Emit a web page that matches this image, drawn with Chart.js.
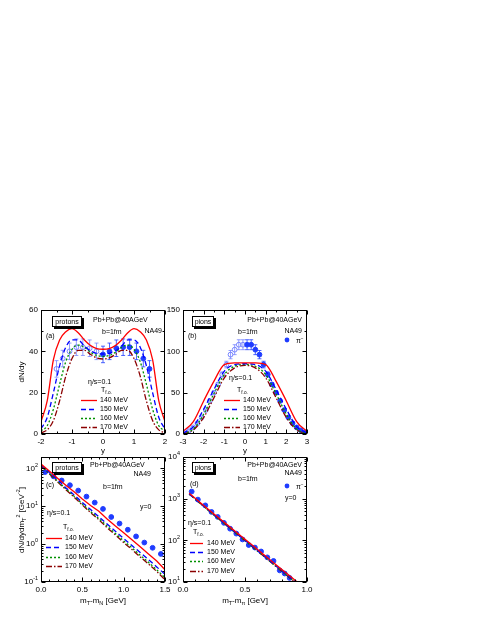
<!DOCTYPE html>
<html>
<head>
<meta charset="utf-8">
<script src="https://cdn.jsdelivr.net/npm/chart.js@4.4.1/dist/chart.umd.min.js"></script>
<style>
  body { margin: 0; background: #fff; }
  #wrap { position: relative; width: 480px; height: 621px; }
  #wrap canvas { position: absolute; left: 0; top: 0; }
</style>
</head>
<body>
<div id="wrap">
  <canvas id="panelA" width="480" height="621"></canvas>
  <canvas id="panelB" width="480" height="621"></canvas>
  <canvas id="panelC" width="480" height="621"></canvas>
  <canvas id="panelD" width="480" height="621"></canvas>
</div>
<script>
// ---- data ----
const tempLabels = ["140 MeV", "150 MeV", "160 MeV", "170 MeV"];

// (a) protons, dN/dy vs y
const rapProton = [-2, -1.8, -1.6, -1.4, -1.2, -1, -0.8, -0.6, -0.4, -0.2, 0, 0.2, 0.4, 0.6, 0.8, 1, 1.2, 1.4, 1.6, 1.8, 2];
const protonDy140 = [6, 16, 36, 45.5, 49.5, 51, 49, 45.5, 42.8, 41.3, 41, 41.3, 42.8, 45.5, 49, 51, 49.5, 45.5, 36, 16, 6];
const protonDy150 = [2.5, 8, 20, 33, 42, 45.5, 45.5, 42.5, 40.2, 39, 38.7, 39, 40.2, 42.5, 45.5, 45.5, 42, 33, 20, 8, 2.5];
const protonDy160 = [1.5, 4, 12, 24, 35, 41, 43, 42, 39.5, 38, 37.5, 38, 39.5, 42, 43, 41, 35, 24, 12, 4, 1.5];
const protonDy170 = [0.5, 2, 6.5, 16, 28, 36.5, 40.5, 40.5, 38.5, 36.8, 36.3, 36.8, 38.5, 40.5, 40.5, 36.5, 28, 16, 6.5, 2, 0.5];
const rapProtonData = [0, 0.21, 0.43, 0.65, 0.86, 1.08, 1.3, 1.5];
const protonDyData = [38.5, 40, 41.5, 42, 42, 40, 36.5, 31.5];
const protonDyErr = [4, 4, 4, 4, 4, 4, 4, 4];
const rapProtonRefl = [-0.21, -0.43, -0.65, -0.86, -1.08, -1.3, -1.5];
const protonDyRefl = [40, 41.5, 42, 42, 40, 36.5, 31.5];
const protonDyReflErr = [4, 4, 4, 4, 4, 4, 4];

// (b) pions, dN/dy vs y
const rapPion = [-3, -2.5, -2, -1.5, -1, -0.5, 0, 0.5, 1, 1.5, 2, 2.5, 3];
const pionDy140 = [3, 15, 40, 64, 84, 86, 86, 86, 84, 64, 40, 15, 3];
const pionDy150 = [1, 9, 30, 54, 76, 84, 85, 84, 76, 54, 30, 9, 1];
const pionDy160 = [0.5, 6, 24, 49, 72, 82, 84, 82, 72, 49, 24, 6, 0.5];
const pionDy170 = [0.3, 5, 20, 44, 68, 80, 83, 80, 68, 44, 20, 5, 0.3];
const rapPionData = [0.1, 0.3, 0.5, 0.7, 0.9, 1.1, 1.3, 1.5, 1.7, 1.9, 2.1, 2.3, 2.5, 2.7, 2.9];
const pionDyData = [108, 108, 102, 96, 84, 72, 60, 50, 40, 29, 20, 13, 8, 4.5, 2];
const pionDyErr = [6, 6, 6, 5, 4, 3, 2, 2, 1.5, 1, 1, 1, 1, 1, 1];
const rapPionRefl = [-0.1, -0.3, -0.5, -0.7, -0.9, -1.1, -1.3, -1.5, -1.7, -1.9, -2.1, -2.3, -2.5, -2.7, -2.9];
const pionDyRefl = [108, 108, 102, 96, 84, 72, 60, 50, 40, 29, 20, 13, 8, 4.5, 2];
const pionDyReflErr = [6, 6, 6, 5, 4, 3, 2, 2, 1.5, 1, 1, 1, 1, 1, 1];

// (c) protons, mT spectra at y=0
const mtProton = [0, 0.1, 0.2, 0.3, 0.4, 0.5, 0.6, 0.7, 0.8, 0.9, 1.0, 1.1, 1.2, 1.3, 1.4, 1.5];
const protonMt140 = [130, 85, 55, 36, 24, 15.5, 10.5, 7.4, 4.6, 3.0, 2.0, 1.3, 0.85, 0.55, 0.36, 0.21];
const protonMt150 = [125, 78, 50, 31, 20, 12.5, 8.2, 5.3, 3.4, 2.2, 1.4, 0.92, 0.6, 0.39, 0.25, 0.16];
const protonMt160 = [120, 74, 46, 29, 18.5, 11.5, 7.3, 4.7, 3.0, 1.9, 1.22, 0.8, 0.51, 0.33, 0.21, 0.13];
const protonMt170 = [117, 72, 44, 27.5, 17.5, 10.8, 6.8, 4.4, 2.7, 1.75, 1.1, 0.72, 0.46, 0.3, 0.19, 0.115];
const mtProtonData = [0.05, 0.15, 0.25, 0.35, 0.45, 0.55, 0.65, 0.75, 0.85, 0.95, 1.05, 1.15, 1.25, 1.35, 1.45];
const protonMtData = [80, 62, 48, 36, 26, 18, 12.5, 8.5, 5.2, 3.5, 2.4, 1.6, 1.1, 0.8, 0.55];

// (d) pions, mT spectra at y=0
const mtPion = [0.05, 0.15, 0.25, 0.35, 0.45, 0.55, 0.65, 0.75, 0.85, 0.95];
const pionMt140 = [1350, 760, 430, 245, 140, 80, 46, 26, 15, 8.5];
const pionMt150 = [1300, 730, 410, 235, 133, 76, 43, 24.5, 14, 8];
const pionMt160 = [1280, 720, 400, 228, 130, 74, 42, 24, 13.5, 7.8];
const pionMt170 = [1300, 720, 405, 230, 130, 74, 42, 23.5, 13.3, 7.5];
const mtPionData = [0.07, 0.12, 0.18, 0.23, 0.28, 0.33, 0.38, 0.43, 0.48, 0.53, 0.58, 0.63, 0.68, 0.73, 0.78, 0.82, 0.86];
const pionMtData = [1480, 950, 690, 480, 365, 263, 190, 145, 105, 77, 67, 54, 39, 32, 19, 16, 12.5];

// ---- styling ----
const W = 480, H = 621, Y_AXIS_W = 30, X_AXIS_H = 16;
const FONT = '"Liberation Sans", Arial, sans-serif';
const curveColors = ["#ff0000", "#0000ff", "#009000", "#8b0000"];
const curveDash = [[], [5, 3], [2, 2], [6, 2, 1.5, 2]];
const markerBlue = "#1f3cff";
const markerOpen = "#7684ff";

function toXY(xs, ys) {
  return xs.map((x, i) => ({ x, y: ys[i] }));
}

function curveSets(xs, series, tension) {
  return series.map((ys, i) => ({
    label: tempLabels[i],
    data: toXY(xs, ys),
    showLine: true,
    borderColor: curveColors[i],
    borderDash: curveDash[i],
    borderWidth: 1.3,
    pointRadius: 0,
    tension: tension,
    cubicInterpolationMode: tension ? "monotone" : "default",
    clip: 0
  }));
}

function pointSet(xs, ys, errs, open) {
  return {
    label: "π⁻",
    data: toXY(xs, ys),
    errors: errs,
    showLine: false,
    pointRadius: 2.4,
    pointStyle: "circle",
    borderWidth: 1,
    borderColor: open ? markerOpen : markerBlue,
    backgroundColor: open ? "rgba(255,255,255,0)" : markerBlue,
    clip: 0
  };
}

function drawRich(ctx, text, x, y, size, align) {
  const segs = typeof text === "string" ? [{ t: text }] : text;
  const parts = segs.map((s) => {
    const sz = s.m ? size * 0.68 : size;
    ctx.font = `${sz}px ${FONT}`;
    return { ...s, sz, w: ctx.measureText(s.t).width };
  });
  const total = parts.reduce((acc, p) => acc + p.w, 0);
  let cx = align === "center" ? x - total / 2 : align === "right" ? x - total : x;
  ctx.textBaseline = "middle";
  ctx.textAlign = "left";
  parts.forEach((p) => {
    ctx.font = `${p.sz}px ${FONT}`;
    const dy = p.m === "sub" ? size * 0.35 : p.m === "sup" ? -size * 0.4 : 0;
    ctx.fillText(p.t, cx, y + dy);
    cx += p.w;
  });
}

function tickList(ax) {
  const out = [];
  if (ax.log) {
    const e0 = Math.floor(Math.log10(ax.min)), e1 = Math.ceil(Math.log10(ax.max));
    for (let e = e0; e <= e1; e++) {
      for (let m = 1; m <= 9; m++) {
        const v = m * Math.pow(10, e);
        if (v >= ax.min * 0.999 && v <= ax.max * 1.001) out.push({ v, major: m === 1 });
      }
    }
    return out;
  }
  const n = Math.round((ax.max - ax.min) / ax.minor);
  for (let i = 0; i <= n; i++) {
    const v = ax.min + i * ax.minor;
    const r = (v - ax.min) / ax.step;
    out.push({ v, major: Math.abs(r - Math.round(r)) < 1e-6 });
  }
  return out;
}

function drawErrorBars(chart) {
  const ctx = chart.ctx, sx = chart.scales.x, sy = chart.scales.y;
  ctx.save();
  chart.data.datasets.forEach((ds) => {
    if (!ds.errors) return;
    ctx.strokeStyle = ds.borderColor;
    ctx.lineWidth = 0.8;
    ctx.setLineDash([]);
    ctx.beginPath();
    ds.data.forEach((p, i) => {
      const e = ds.errors[i];
      const px = sx.getPixelForValue(p.x);
      const y1 = sy.getPixelForValue(p.y + e), y2 = sy.getPixelForValue(p.y - e);
      ctx.moveTo(px, y1); ctx.lineTo(px, y2);
      ctx.moveTo(px - 2, y1); ctx.lineTo(px + 2, y1);
      ctx.moveTo(px - 2, y2); ctx.lineTo(px + 2, y2);
    });
    ctx.stroke();
  });
  ctx.restore();
}

function makeDecor(xAxis, yAxis, deco) {
  return {
    id: "decor",
    beforeDatasetsDraw(chart) {
      drawErrorBars(chart);
    },
    afterDraw(chart) {
      const ctx = chart.ctx, a = chart.chartArea, sx = chart.scales.x, sy = chart.scales.y;
      ctx.save();
      ctx.strokeStyle = "#000";
      ctx.fillStyle = "#000";
      ctx.lineWidth = 1;
      ctx.setLineDash([]);
      const L = Math.round(a.left) + 0.5, R = Math.round(a.right) - 0.5;
      const T = Math.round(a.top) + 0.5, B = Math.round(a.bottom) - 0.5;
      ctx.strokeRect(L, T, R - L, B - T);
      ctx.beginPath();
      tickList(xAxis).forEach((t) => {
        const p = Math.round(sx.getPixelForValue(t.v)) + 0.5, len = t.major ? 4 : 2;
        ctx.moveTo(p, B); ctx.lineTo(p, B - len);
        ctx.moveTo(p, T); ctx.lineTo(p, T + len);
      });
      tickList(yAxis).forEach((t) => {
        const p = Math.round(sy.getPixelForValue(t.v)) + 0.5, len = t.major ? 4 : 2;
        ctx.moveTo(L, p); ctx.lineTo(L + len, p);
        ctx.moveTo(R, p); ctx.lineTo(R - len, p);
      });
      ctx.stroke();

      // decade labels on log axes, 10 with a raised exponent
      if (yAxis.log) {
        tickList(yAxis).filter((t) => t.major).forEach((t) => {
          const e = Math.round(Math.log10(t.v));
          const py = sy.getPixelForValue(t.v);
          drawRich(ctx, [{ t: "10" }, { t: String(e), m: "sup" }], a.left - 3, py, 8, "right");
        });
      }

      // label box with shadow
      const bx = deco.box;
      ctx.fillStyle = "#000";
      ctx.fillRect(bx.x + 2, bx.y + 2, bx.w, bx.h);
      ctx.fillStyle = "#fff";
      ctx.fillRect(bx.x, bx.y, bx.w, bx.h);
      ctx.strokeRect(bx.x + 0.5, bx.y + 0.5, bx.w - 1, bx.h - 1);
      ctx.fillStyle = "#000";
      drawRich(ctx, bx.text, bx.x + bx.w / 2, bx.y + bx.h / 2 + 0.5, 7, "center");

      deco.notes.forEach((n) => drawRich(ctx, n.text, n.x, n.y, n.size || 7, n.align || "left"));

      // line legend built from the curve datasets
      const lg = deco.legend;
      chart.data.datasets.slice(0, 4).forEach((ds, i) => {
        const y = lg.rows[i] + 0.5;
        ctx.strokeStyle = ds.borderColor;
        ctx.lineWidth = ds.borderWidth;
        ctx.setLineDash(ds.borderDash);
        ctx.beginPath();
        ctx.moveTo(lg.x1, y); ctx.lineTo(lg.x2, y);
        ctx.stroke();
        ctx.setLineDash([]);
        ctx.fillStyle = "#000";
        drawRich(ctx, ds.label, lg.tx, lg.rows[i], 7, "left");
      });

      if (deco.marker) {
        const mk = deco.marker;
        const ds = chart.data.datasets[4];
        ctx.fillStyle = ds.backgroundColor;
        ctx.beginPath();
        ctx.arc(mk.x, mk.y, ds.pointRadius, 0, Math.PI * 2);
        ctx.fill();
        ctx.fillStyle = "#000";
        drawRich(ctx, [{ t: "π" }, { t: "−", m: "sup" }], mk.tx, mk.y + 1, 7, "left");
      }

      deco.titles.forEach((tt) => {
        ctx.save();
        ctx.translate(tt.x, tt.y);
        if (tt.rot) ctx.rotate(-Math.PI / 2);
        drawRich(ctx, tt.text, 0, 0, 8, "center");
        ctx.restore();
      });
      ctx.restore();
    }
  };
}

function scaleCfg(ax, dir) {
  return {
    type: ax.log ? "logarithmic" : "linear",
    min: ax.min,
    max: ax.max,
    grid: { display: false, drawTicks: false },
    border: { display: false },
    ticks: {
      display: !ax.log,
      stepSize: ax.step,
      autoSkip: false,
      maxRotation: 0,
      padding: 3,
      color: "#000",
      font: { family: FONT, size: 8 },
      callback: (v) => (ax.fmt ? ax.fmt(v) : v)
    },
    afterFit: (s) => {
      if (dir === "x") s.height = X_AXIS_H;
      else s.width = Y_AXIS_W;
    }
  };
}

function buildPanel(canvasId, area, xAxis, yAxis, datasets, deco) {
  return new Chart(document.getElementById(canvasId), {
    type: "scatter",
    data: { datasets },
    options: {
      responsive: false,
      animation: false,
      devicePixelRatio: 1,
      events: [],
      layout: {
        padding: { left: area.l - Y_AXIS_W, top: area.t, right: W - area.r, bottom: H - area.b - X_AXIS_H }
      },
      plugins: { legend: { display: false }, tooltip: { enabled: false } },
      scales: { x: scaleCfg(xAxis, "x"), y: scaleCfg(yAxis, "y") }
    },
    plugins: [makeDecor(xAxis, yAxis, deco)]
  });
}

const etaS = "η/s=0.1";
const tFo = [{ t: "T" }, { t: "f.o.", m: "sub" }];
const fixed1 = (v) => Number(v).toFixed(1);

buildPanel("panelA", { l: 41, t: 310, r: 165, b: 434 },
  { min: -2, max: 2, step: 1, minor: 0.5 },
  { min: 0, max: 60, step: 20, minor: 10 },
  [
    ...curveSets(rapProton, [protonDy140, protonDy150, protonDy160, protonDy170], 0.4),
    pointSet(rapProtonData, protonDyData, protonDyErr, false),
    pointSet(rapProtonRefl, protonDyRefl, protonDyReflErr, true)
  ],
  {
    box: { x: 52, y: 316, w: 30, h: 11, text: "protons" },
    notes: [
      { text: "Pb+Pb@40AGeV", x: 93, y: 320 },
      { text: "b=1fm", x: 102, y: 332 },
      { text: "NA49", x: 162, y: 331, align: "right" },
      { text: "(a)", x: 46, y: 336 },
      { text: etaS, x: 88, y: 382 },
      { text: tFo, x: 101, y: 390 }
    ],
    legend: { rows: [400, 409, 418, 427], x1: 81, x2: 97, tx: 100 },
    titles: [
      { text: "dN/dy", x: 22, y: 372, rot: true },
      { text: "y", x: 103, y: 451 }
    ]
  });

buildPanel("panelB", { l: 183, t: 310, r: 307, b: 434 },
  { min: -3, max: 3, step: 1, minor: 0.5 },
  { min: 0, max: 150, step: 50, minor: 25 },
  [
    ...curveSets(rapPion, [pionDy140, pionDy150, pionDy160, pionDy170], 0.4),
    pointSet(rapPionData, pionDyData, pionDyErr, false),
    pointSet(rapPionRefl, pionDyRefl, pionDyReflErr, true)
  ],
  {
    box: { x: 192, y: 316, w: 22, h: 11, text: "pions" },
    notes: [
      { text: "Pb+Pb@40AGeV", x: 302, y: 320, align: "right" },
      { text: "b=1fm", x: 238, y: 332 },
      { text: "NA49", x: 302, y: 331, align: "right" },
      { text: "(b)", x: 188, y: 336 },
      { text: etaS, x: 229, y: 378 },
      { text: tFo, x: 237, y: 390 }
    ],
    marker: { x: 287, y: 340, tx: 296 },
    legend: { rows: [400, 409, 418, 427], x1: 224, x2: 240, tx: 243 },
    titles: [{ text: "y", x: 245, y: 451 }]
  });

buildPanel("panelC", { l: 41, t: 457, r: 165, b: 582 },
  { min: 0, max: 1.5, step: 0.5, minor: 0.1, fmt: fixed1 },
  { log: true, min: 0.1, max: 200 },
  [
    ...curveSets(mtProton, [protonMt140, protonMt150, protonMt160, protonMt170], 0),
    pointSet(mtProtonData, protonMtData, null, false)
  ],
  {
    box: { x: 52, y: 462, w: 30, h: 11, text: "protons" },
    notes: [
      { text: "Pb+Pb@40AGeV", x: 90, y: 465 },
      { text: "NA49", x: 151, y: 474, align: "right" },
      { text: "b=1fm", x: 103, y: 487 },
      { text: "(c)", x: 46, y: 485 },
      { text: "y=0", x: 140, y: 507 },
      { text: etaS, x: 47, y: 513 },
      { text: tFo, x: 63, y: 527 }
    ],
    legend: { rows: [538, 547, 557, 566], x1: 46, x2: 62, tx: 65 },
    titles: [
      { text: [{ t: "dN/dydm" }, { t: "T", m: "sub" }, { t: "2", m: "sup" }, { t: " [GeV" }, { t: "-2", m: "sup" }, { t: "]" }], x: 22, y: 520, rot: true },
      { text: [{ t: "m" }, { t: "T", m: "sub" }, { t: "-m" }, { t: "N", m: "sub" }, { t: " [GeV]" }], x: 103, y: 601 }
    ]
  });

buildPanel("panelD", { l: 183, t: 457, r: 307, b: 582 },
  { min: 0, max: 1, step: 0.5, minor: 0.1, fmt: fixed1 },
  { log: true, min: 10, max: 10000 },
  [
    ...curveSets(mtPion, [pionMt140, pionMt150, pionMt160, pionMt170], 0),
    pointSet(mtPionData, pionMtData, null, false)
  ],
  {
    box: { x: 192, y: 462, w: 22, h: 11, text: "pions" },
    notes: [
      { text: "(d)", x: 190, y: 484 },
      { text: "Pb+Pb@40AGeV", x: 302, y: 465, align: "right" },
      { text: "NA49", x: 302, y: 473, align: "right" },
      { text: "b=1fm", x: 238, y: 479 },
      { text: "y=0", x: 285, y: 498 },
      { text: etaS, x: 188, y: 523 },
      { text: tFo, x: 193, y: 532 }
    ],
    marker: { x: 287, y: 486, tx: 296 },
    legend: { rows: [543, 552, 561, 571], x1: 190, x2: 203, tx: 207 },
    titles: [
      { text: [{ t: "m" }, { t: "T", m: "sub" }, { t: "-m" }, { t: "π", m: "sub" }, { t: " [GeV]" }], x: 245, y: 601 }
    ]
  });
</script>
</body>
</html>
